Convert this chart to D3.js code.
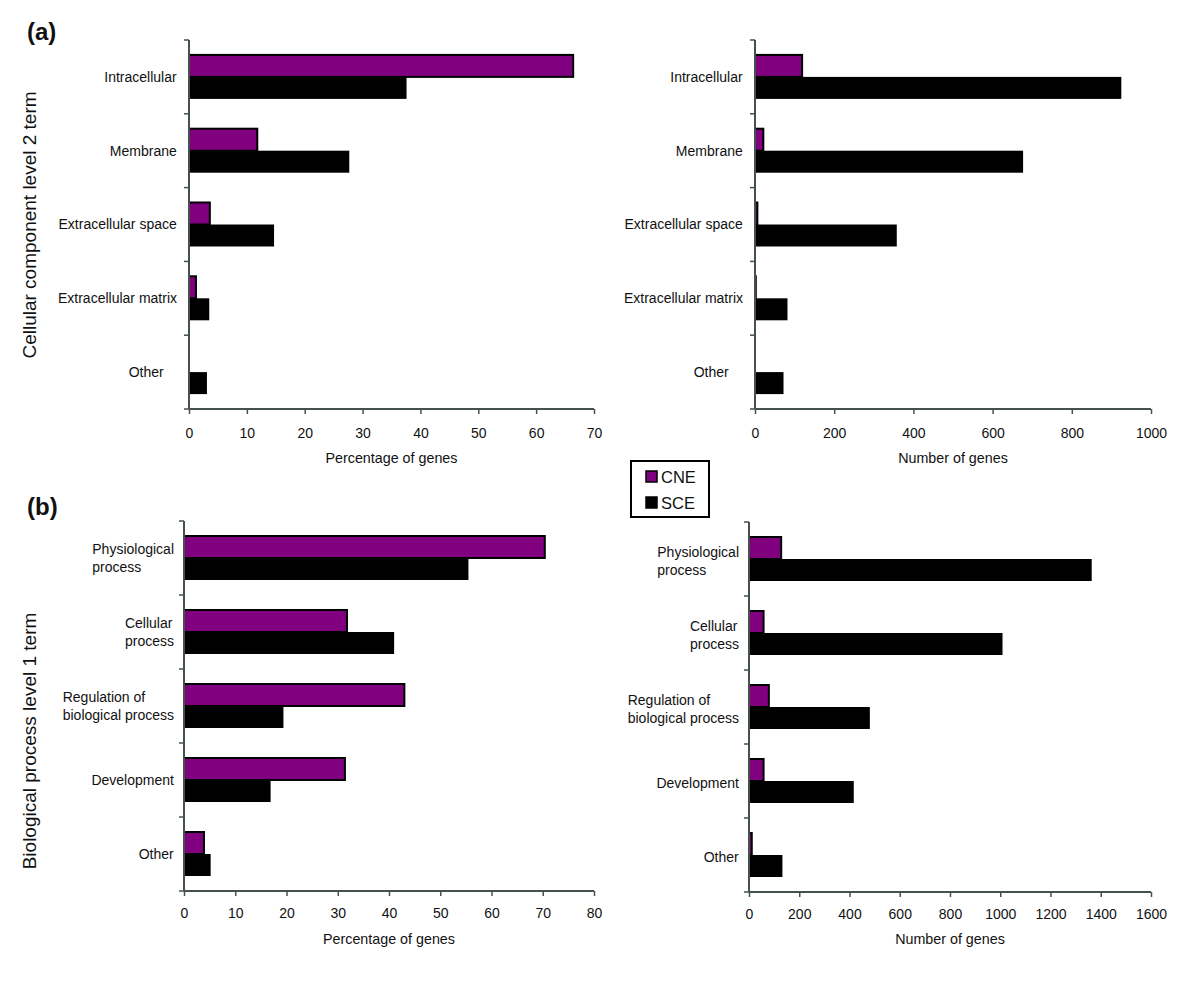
<!DOCTYPE html>
<html>
<head>
<meta charset="utf-8">
<script src="https://cdn.jsdelivr.net/npm/d3@7"></script>
<style>
  body { margin: 0; background: #fff; }
  svg { display: block; font-family: "Liberation Sans", Arial, sans-serif; }
</style>
</head>
<body>
<svg id="chart" width="1200" height="984"></svg>
<script>
// ---------- DATA ----------
const ccCategories = ["Intracellular", "Membrane", "Extracellular space", "Extracellular matrix", "Other"];
const ccCnePct = [66.4, 11.8, 3.6, 1.2, 0];
const ccScePct = [37.6, 27.7, 14.7, 3.5, 3.1];
const ccCneNum = [119, 21, 6, 2, 0];
const ccSceNum = [925, 677, 358, 82, 72];

const bpCategories = [["Physiological", "process"], ["Cellular", "process"], ["Regulation of", "biological process"], ["Development"], ["Other"]];
const bpCnePct = [70.4, 31.8, 43.0, 31.4, 3.9];
const bpScePct = [55.5, 41.0, 19.4, 16.9, 5.2];
const bpCneNum = [128, 58, 79, 58, 11];
const bpSceNum = [1364, 1009, 481, 417, 133];

const ccPctTicks = [0, 10, 20, 30, 40, 50, 60, 70];
const ccNumTicks = [0, 200, 400, 600, 800, 1000];
const bpPctTicks = [0, 10, 20, 30, 40, 50, 60, 70, 80];
const bpNumTicks = [0, 200, 400, 600, 800, 1000, 1200, 1400, 1600];

const seriesNames = ["CNE", "SCE"];
const seriesColors = ["#800080", "#000000"];

const pctTitle = "Percentage of genes";
const numTitle = "Number of genes";

// ---------- DRAW ----------
const svg = d3.select("#chart");
const FONT = 14;
const AXIS_COLOR = "#46504d";

function panel(opts) {
  const g = svg.append("g");
  const x = d3.scaleLinear().domain([0, opts.ticks[opts.ticks.length - 1]]).range([opts.x0, opts.x1]);
  const idx = opts.categories.map((d, i) => i);
  const y = d3.scaleBand().domain(idx).range([opts.y0, opts.y1]);
  const bw = y.bandwidth();
  const barH = 22;
  const rows = idx.map(i => ({ i, cne: opts.cne[i], sce: opts.sce[i] }));

  rows.forEach(r => {
    const cy = y(r.i) + bw / 2;
    if (r.sce > 0) {
      g.append("rect").attr("x", x(0)).attr("y", cy)
        .attr("width", x(r.sce) - x(0)).attr("height", barH)
        .attr("fill", seriesColors[1]);
    }
    if (r.cne > 0) {
      g.append("rect").attr("x", x(0)).attr("y", cy - barH)
        .attr("width", x(r.cne) - x(0)).attr("height", barH)
        .attr("fill", seriesColors[0]).attr("stroke", "#000").attr("stroke-width", 2);
    }
  });

  const xAxis = d3.axisBottom(x).tickValues(opts.ticks).tickSize(5).tickPadding(opts.tickPad).tickFormat(d3.format("d"));
  const xg = g.append("g").attr("transform", `translate(0,${opts.y1})`).call(xAxis);
  xg.select(".domain").attr("stroke", AXIS_COLOR).attr("stroke-width", 2).attr("d", `M${opts.x0},0H${opts.x1}`);
  xg.selectAll(".tick line").attr("stroke", AXIS_COLOR).attr("stroke-width", 1.5);
  xg.selectAll(".tick text").attr("font-size", FONT).attr("fill", "#111").attr("font-family", "Liberation Sans, Arial, sans-serif");

  g.append("line").attr("x1", opts.x0).attr("x2", opts.x0).attr("y1", opts.y0).attr("y2", opts.y1)
    .attr("stroke", AXIS_COLOR).attr("stroke-width", 2);
  const bounds = idx.map(i => y(i)).concat([opts.y1]);
  g.selectAll(".ytick").data(bounds).enter().append("line")
    .attr("x1", opts.x0 - 5).attr("x2", opts.x0).attr("y1", d => d).attr("y2", d => d)
    .attr("stroke", AXIS_COLOR).attr("stroke-width", 1.5);

  rows.forEach(r => {
    const lines = Array.isArray(opts.categories[r.i]) ? opts.categories[r.i] : [opts.categories[r.i]];
    const cy = y(r.i) + bw / 2 + (opts.labelDy || 0);
    const lh = 18;
    const t = g.append("text").attr("font-size", FONT).attr("fill", "#111");
    lines.forEach((ln, k) => {
      t.append("tspan").attr("x", 0).attr("y", cy + (k - (lines.length - 1) / 2) * lh).attr("dy", "0.35em").text(ln);
    });
    const w = t.node().getBBox().width;
    const extra = (opts.shiftLast && r.i === idx.length - 1) ? opts.shiftLast : 0;
    const left = opts.x0 - opts.labelGap - extra - w;
    t.selectAll("tspan").attr("x", left);
  });

  g.append("text").attr("x", (opts.x0 + opts.x1) / 2).attr("y", opts.titleY)
    .attr("text-anchor", "middle").attr("font-size", 14.3).attr("fill", "#111").text(opts.title);
}

panel({ categories: ccCategories, cne: ccCnePct, sce: ccScePct, ticks: ccPctTicks, tickPad: 14,
  x0: 189, x1: 594, y0: 40, y1: 409, labelGap: 12, shiftLast: 13, titleY: 463, title: pctTitle });
panel({ categories: ccCategories, cne: ccCneNum, sce: ccSceNum, ticks: ccNumTicks, tickPad: 14,
  x0: 755, x1: 1151, y0: 40, y1: 409, labelGap: 12, shiftLast: 14, titleY: 463, title: numTitle });
panel({ categories: bpCategories, cne: bpCnePct, sce: bpScePct, ticks: bpPctTicks, tickPad: 12,
  x0: 184, x1: 594, y0: 521, y1: 891, labelGap: 10, titleY: 944, title: pctTitle });
panel({ categories: bpCategories, cne: bpCneNum, sce: bpSceNum, ticks: bpNumTicks, tickPad: 12,
  x0: 749, x1: 1151, y0: 522, y1: 892, labelGap: 10, labelDy: 2, titleY: 944, title: numTitle });

svg.append("text").attr("x", 27).attr("y", 40).attr("font-size", 24).attr("font-weight", "bold").attr("fill", "#111").text("(a)");
svg.append("text").attr("x", 27).attr("y", 515).attr("font-size", 24).attr("font-weight", "bold").attr("fill", "#111").text("(b)");

svg.append("text").attr("transform", "translate(36,225) rotate(-90)").attr("text-anchor", "middle")
  .attr("font-size", 19).attr("fill", "#111").text("Cellular component level 2 term");
svg.append("text").attr("transform", "translate(36,741) rotate(-90)").attr("text-anchor", "middle")
  .attr("font-size", 19).attr("fill", "#111").text("Biological process level 1 term");

const lg = svg.append("g").attr("transform", "translate(631,461)");
lg.append("rect").attr("x", 0).attr("y", 0).attr("width", 78).attr("height", 56)
  .attr("fill", "#fff").attr("stroke", "#000").attr("stroke-width", 2);
seriesNames.forEach((s, i) => {
  lg.append("rect").attr("x", 15).attr("y", 10 + i * 26).attr("width", 11).attr("height", 11)
    .attr("fill", seriesColors[i]).attr("stroke", "#000").attr("stroke-width", 1.5);
  lg.append("text").attr("x", 30).attr("y", 16 + i * 26).attr("dy", "0.35em")
    .attr("font-size", 16.5).attr("fill", "#111").text(s);
});
</script>
</body>
</html>
